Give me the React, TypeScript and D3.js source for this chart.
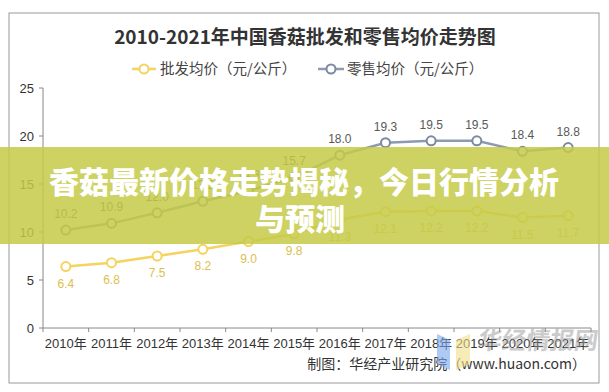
import * as d3 from "d3";

const YEARS = ["2010年", "2011年", "2012年", "2013年", "2014年", "2015年", "2016年", "2017年", "2018年", "2019年", "2020年", "2021年"];
const WHOLESALE = [6.4, 6.8, 7.5, 8.2, 9.0, 9.8, 11.3, 12.1, 12.2, 12.2, 11.5, 11.7];
const RETAIL = [10.2, 10.9, 12.0, 13.2, 14.3, 15.7, 18.0, 19.3, 19.5, 19.5, 18.4, 18.8];
const Y_TICKS = [0, 5, 10, 15, 20, 25];

const W = 609;
const H = 392;
const SANS = "'Liberation Sans', Arial, 'Noto Sans CJK SC', sans-serif";
const CJK = "'Noto Sans CJK SC', sans-serif";

const YELLOW = "#f4d35e";
const YELLOW_TXT = "#dcc04e";
const GREY = "#8e9ab0";
const GREY_MARK = "#7d89a0";

export default function App() {
  const x = d3.scaleBand<string>().domain(YEARS).range([43, 591]);
  const y = d3.scaleLinear().domain([0, 25]).range([328, 88]);
  const cx = (d: string) => (x(d) ?? 0) + x.bandwidth() / 2;

  const line = d3
    .line<number>()
    .x((_, i) => cx(YEARS[i]))
    .y((v) => y(v));

  const boundaries = YEARS.map((d) => x(d) ?? 0).concat([591]);

  return (
    <svg width={W} height={H} style={{ position: "absolute", left: 0, top: 0, background: "#fff" }}>
      <rect x={9} y={13} width={590} height={370} fill="#fff" stroke="#9a9a9a" strokeWidth={1} />

      {/* Title */}
      <text x={305} y={44} textAnchor="middle" fontFamily={CJK} fontWeight={700} fontSize={19} fill="#333">
        2010-2021年中国香菇批发和零售均价走势图
      </text>

      {/* Legend */}
      <g>
        <line x1={132} x2={156} y1={69} y2={69} stroke={YELLOW} strokeWidth={2.5} />
        <circle cx={144} cy={69} r={4.5} fill="#fff" stroke={YELLOW} strokeWidth={2} />
        <text x={160} y={74} fontFamily={CJK} fontSize={14.5} fill="#444">批发均价（元/公斤）</text>
        <line x1={318} x2={344} y1={69} y2={69} stroke={GREY} strokeWidth={2.5} />
        <circle cx={331} cy={69} r={4.5} fill="#fff" stroke={GREY_MARK} strokeWidth={2} />
        <text x={347} y={74} fontFamily={CJK} fontSize={14.5} fill="#444">零售均价（元/公斤）</text>
      </g>

      {/* Y axis */}
      <line x1={43} x2={43} y1={y(25)} y2={y(0)} stroke="#888" />
      {Y_TICKS.map((t) => (
        <g key={t}>
          <line x1={39} x2={43} y1={y(t)} y2={y(t)} stroke="#888" />
          <text x={34} y={y(t) + 4.5} textAnchor="end" fontFamily={SANS} fontSize={13} fill="#333">
            {t}
          </text>
        </g>
      ))}

      {/* X axis */}
      <line x1={43} x2={591} y1={y(0)} y2={y(0)} stroke="#888" />
      {boundaries.map((b, i) => (
        <line key={i} x1={b} x2={b} y1={y(0)} y2={y(0) + 4} stroke="#888" />
      ))}
      {YEARS.map((d) => (
        <text key={d} x={cx(d)} y={348} textAnchor="middle" fontFamily={SANS} fontSize={13} fill="#333">
          {d}
        </text>
      ))}

      {/* Series */}
      <path d={line(RETAIL) ?? ""} fill="none" stroke={GREY} strokeWidth={2.5} />
      <path d={line(WHOLESALE) ?? ""} fill="none" stroke={YELLOW} strokeWidth={2.5} />
      {RETAIL.map((v, i) => (
        <g key={"r" + i}>
          <circle cx={cx(YEARS[i])} cy={y(v)} r={4.5} fill="#fff" stroke={GREY_MARK} strokeWidth={2} />
          <text x={cx(YEARS[i])} y={y(v) - 12} textAnchor="middle" fontFamily={SANS} fontSize={12} fill="#595959">
            {v.toFixed(1)}
          </text>
        </g>
      ))}
      {WHOLESALE.map((v, i) => (
        <g key={"w" + i}>
          <circle cx={cx(YEARS[i])} cy={y(v)} r={4.5} fill="#fff" stroke={YELLOW} strokeWidth={2} />
          <text x={cx(YEARS[i])} y={y(v) + 21} textAnchor="middle" fontFamily={SANS} fontSize={12} fill={YELLOW_TXT}>
            {v.toFixed(1)}
          </text>
        </g>
      ))}

      {/* Source */}
      <text x={586} y={369} textAnchor="end" fontFamily={CJK} fontSize={14} fill="#333">
        制图：华经产业研究院（www.huaon.com）
      </text>

      {/* Watermark */}
      <g opacity={0.6}>
        <polygon points="437,334 450,340 450,370 437,364" fill="#7aa7ee" />
        <polygon points="456,340 470,334 470,364 456,370" fill="#f3e08a" />
      </g>
      <text x={538} y={349} textAnchor="middle" fontFamily={CJK} fontWeight={700} fontSize={24}
        fill="#999" opacity={0.5} transform="skewX(-8) translate(48,0)">
        华经情报网
      </text>

      {/* Banner overlay */}
      <rect x={0} y={147} width={W} height={97} fill="rgb(196,202,72)" opacity={0.85} />
      <text x={304} y={193} textAnchor="middle" fontFamily={CJK} fontWeight={900} fontSize={30} fill="#fff">
        香菇最新价格走势揭秘，今日行情分析
      </text>
      <text x={300} y={230} textAnchor="middle" fontFamily={CJK} fontWeight={900} fontSize={30} fill="#fff">
        与预测
      </text>
    </svg>
  );
}
